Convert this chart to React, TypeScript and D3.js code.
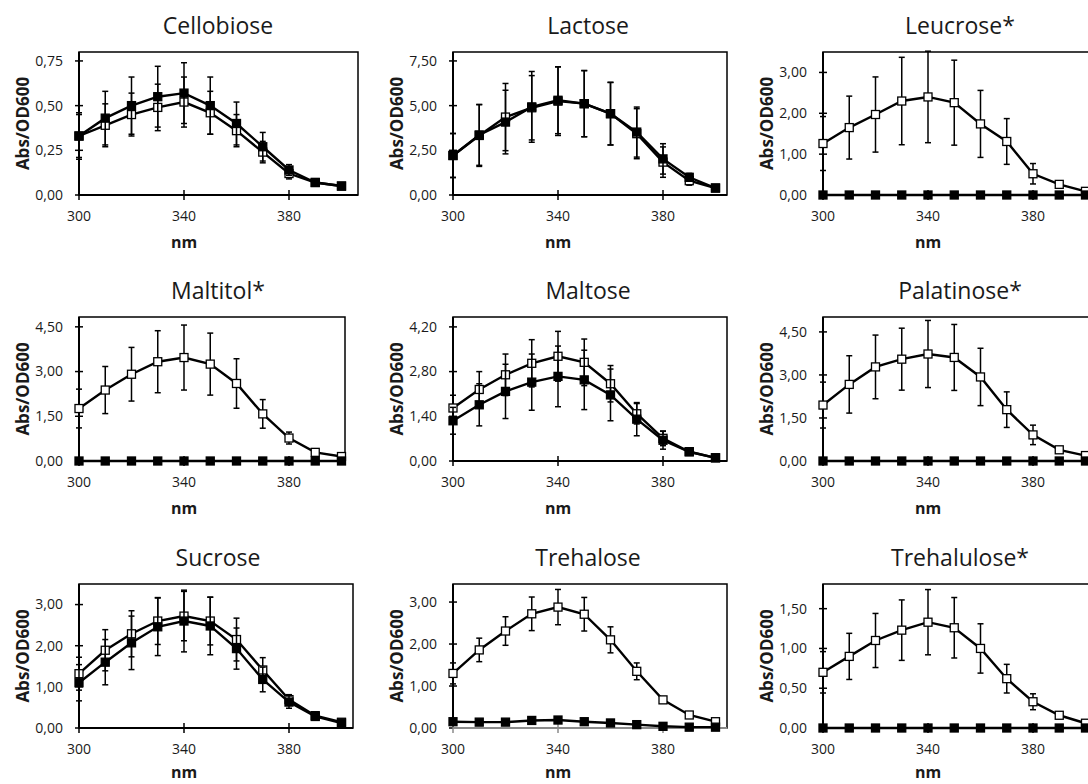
import * as d3 from "d3";

const wavelengths = [300, 310, 320, 330, 340, 350, 360, 370, 380, 390, 400];
const xTickValues = [300, 340, 380];

const titles = ["Cellobiose", "Lactose", "Leucrose*", "Maltitol*", "Maltose", "Palatinose*", "Sucrose", "Trehalose", "Trehalulose*"];

const zeros = [0, 0, 0, 0, 0, 0, 0, 0, 0, 0, 0];

// open squares = series 1, filled squares = series 2
const cellobioseOpen = [0.33, 0.39, 0.45, 0.49, 0.52, 0.46, 0.36, 0.24, 0.12, 0.07, 0.05];
const cellobioseOpenErr = [0.12, 0.12, 0.12, 0.13, 0.14, 0.12, 0.09, 0.06, 0.03, 0.01, 0.01];
const cellobioseFilled = [0.33, 0.43, 0.5, 0.55, 0.57, 0.5, 0.4, 0.27, 0.14, 0.07, 0.05];
const cellobioseFilledErr = [0.13, 0.15, 0.16, 0.17, 0.17, 0.16, 0.12, 0.08, 0.03, 0.01, 0.01];

const lactoseOpen = [2.21, 3.33, 4.36, 4.88, 5.25, 5.11, 4.55, 3.43, 1.84, 0.8, 0.39];
const lactoseOpenErr = [1.23, 1.73, 1.88, 1.8, 1.92, 1.85, 1.75, 1.4, 0.85, 0.25, 0.08];
const lactoseFilled = [2.21, 3.36, 4.08, 4.93, 5.3, 5.11, 4.55, 3.52, 2.02, 0.99, 0.39];
const lactoseFilledErr = [1.23, 1.7, 1.78, 1.98, 1.87, 1.85, 1.75, 1.4, 0.85, 0.22, 0.08];

const leucroseOpen = [1.26, 1.65, 1.97, 2.3, 2.4, 2.26, 1.74, 1.31, 0.52, 0.26, 0.09];
const leucroseOpenErr = [0.66, 0.77, 0.92, 1.07, 1.12, 1.04, 0.82, 0.56, 0.25, 0.06, 0.02];

const maltitolOpen = [1.76, 2.38, 2.91, 3.33, 3.47, 3.25, 2.6, 1.58, 0.77, 0.29, 0.15];
const maltitolOpenErr = [0.65, 0.79, 0.9, 1.04, 1.09, 1.04, 0.83, 0.48, 0.2, 0.04, 0.02];

const maltoseOpen = [1.66, 2.24, 2.7, 3.06, 3.28, 3.09, 2.42, 1.48, 0.71, 0.29, 0.1];
const maltoseOpenErr = [0.4, 0.56, 0.65, 0.74, 0.78, 0.73, 0.57, 0.32, 0.23, 0.04, 0.02];
const maltoseFilled = [1.26, 1.76, 2.18, 2.47, 2.65, 2.54, 2.07, 1.31, 0.65, 0.29, 0.1];
const maltoseFilledErr = [0.42, 0.66, 0.85, 0.88, 0.95, 0.93, 0.81, 0.52, 0.28, 0.04, 0.02];

const palatinoseOpen = [1.95, 2.67, 3.28, 3.55, 3.73, 3.61, 2.93, 1.79, 0.91, 0.39, 0.19];
const palatinoseOpenErr = [0.8, 1.0, 1.11, 1.08, 1.17, 1.15, 1.0, 0.62, 0.34, 0.05, 0.02];

const sucroseOpen = [1.32, 1.89, 2.29, 2.6, 2.72, 2.6, 2.15, 1.41, 0.69, 0.3, 0.14];
const sucroseOpenErr = [0.4, 0.5, 0.56, 0.57, 0.6, 0.58, 0.52, 0.3, 0.12, 0.03, 0.02];
const sucroseFilled = [1.1, 1.6, 2.07, 2.46, 2.6, 2.48, 1.93, 1.18, 0.63, 0.28, 0.12];
const sucroseFilledErr = [0.44, 0.55, 0.65, 0.7, 0.75, 0.7, 0.5, 0.3, 0.15, 0.03, 0.02];

const trehaloseOpen = [1.3, 1.86, 2.31, 2.72, 2.88, 2.71, 2.1, 1.35, 0.67, 0.31, 0.15];
const trehaloseOpenErr = [0.25, 0.28, 0.34, 0.4, 0.42, 0.4, 0.31, 0.2, 0.05, 0.02, 0.01];
const trehaloseFilled = [0.15, 0.14, 0.14, 0.18, 0.19, 0.15, 0.12, 0.08, 0.04, 0.02, 0.02];
const trehaloseFilledErr = [0.02, 0.02, 0.02, 0.02, 0.02, 0.02, 0.02, 0.01, 0.01, 0.01, 0.01];

const trehaluloseOpen = [0.7, 0.9, 1.1, 1.23, 1.33, 1.26, 1.0, 0.62, 0.33, 0.16, 0.06];
const trehaluloseOpenErr = [0.26, 0.29, 0.34, 0.38, 0.41, 0.38, 0.31, 0.18, 0.1, 0.02, 0.01];

const openSeries = [cellobioseOpen, lactoseOpen, leucroseOpen, maltitolOpen, maltoseOpen, palatinoseOpen, sucroseOpen, trehaloseOpen, trehaluloseOpen];
const openErrors = [cellobioseOpenErr, lactoseOpenErr, leucroseOpenErr, maltitolOpenErr, maltoseOpenErr, palatinoseOpenErr, sucroseOpenErr, trehaloseOpenErr, trehaluloseOpenErr];
const filledSeries = [cellobioseFilled, lactoseFilled, zeros, zeros, maltoseFilled, zeros, sucroseFilled, trehaloseFilled, zeros];
const filledErrors = [cellobioseFilledErr, lactoseFilledErr, zeros, zeros, maltoseFilledErr, zeros, sucroseFilledErr, trehaloseFilledErr, zeros];

// y axis top of each plot area and its tick values
const yMaxes = [0.8, 8.0, 3.5, 4.83, 4.51, 5.02, 3.5, 3.43, 1.81];
const yTickValues = [
  [0, 0.25, 0.5, 0.75],
  [0, 2.5, 5, 7.5],
  [0, 1, 2, 3],
  [0, 1.5, 3, 4.5],
  [0, 1.4, 2.8, 4.2],
  [0, 1.5, 3, 4.5],
  [0, 1, 2, 3],
  [0, 1, 2, 3],
  [0, 0.5, 1, 1.5],
];

// layout
const colLeft = [79, 453, 823];
const rowTop = [52, 317, 584];
const rowBottom = [195, 461, 728];
const rightEdges = [
  [358, 727, 1096],
  [345, 727, 1096],
  [353, 727, 1096],
];
const titleCenters = [218, 588, 960];
const nmOffset = [53, 53, 50];
const pxPer10nm = 26.25;
const font = "'Open Sans', 'DejaVu Sans', sans-serif";

const fmt = (v: number) => d3.format(".2f")(v).replace(".", ",");

function Panel({ i }: { i: number }) {
  const row = Math.floor(i / 3);
  const col = i % 3;
  const left = colLeft[col];
  const top = rowTop[row];
  const bottom = rowBottom[row];
  const right = rightEdges[row][col];

  const x = d3.scaleLinear().domain([300, 400]).range([left, left + pxPer10nm * 10]);
  const y = d3.scaleLinear().domain([0, yMaxes[i]]).range([bottom, top]);

  const line = d3.line<number>().x((_, k) => x(wavelengths[k])).y((d) => y(d));

  const axisColor = i === 7 ? "#8a8a8a" : "#000";
  const ms = 8;

  const drawSeries = (vals: number[], errs: number[], filled: boolean) => (
    <g>
      {vals.map((v, k) => (
        <g key={"e" + k} stroke="#000" strokeWidth={1.5}>
          <line x1={x(wavelengths[k])} x2={x(wavelengths[k])} y1={y(v - errs[k])} y2={y(v + errs[k])} />
          <line x1={x(wavelengths[k]) - 3} x2={x(wavelengths[k]) + 3} y1={y(v + errs[k])} y2={y(v + errs[k])} />
          <line x1={x(wavelengths[k]) - 3} x2={x(wavelengths[k]) + 3} y1={y(v - errs[k])} y2={y(v - errs[k])} />
        </g>
      ))}
      <path d={line(vals) ?? ""} fill="none" stroke="#000" strokeWidth={2.4} />
      {vals.map((v, k) => (
        <rect
          key={"m" + k}
          x={x(wavelengths[k]) - ms / 2}
          y={y(v) - ms / 2}
          width={ms}
          height={ms}
          fill={filled ? "#000" : "#fff"}
          stroke="#000"
          strokeWidth={1.3}
        />
      ))}
    </g>
  );

  return (
    <g>
      <text x={titleCenters[col]} y={top - 18} textAnchor="middle" fontFamily={font} fontSize={23} fill="#1a1a1a">
        {titles[i]}
      </text>
      {/* plot area border */}
      <rect x={left} y={top} width={right - left} height={bottom - top} fill="none" stroke="#000" strokeWidth={1.5} />
      {/* y axis */}
      <line x1={left} x2={left} y1={top} y2={bottom} stroke="#000" strokeWidth={2} />
      {yTickValues[i].map((t) => (
        <g key={t}>
          <line x1={left - 4} x2={left + 4} y1={y(t)} y2={y(t)} stroke="#000" strokeWidth={1.5} />
          <text x={left - 16} y={y(t)} dy="0.35em" textAnchor="end" fontFamily={font} fontSize={14} fill="#1a1a1a">
            {fmt(t)}
          </text>
        </g>
      ))}
      {/* x axis */}
      <line x1={left} x2={right} y1={bottom} y2={bottom} stroke={axisColor} strokeWidth={2} />
      {xTickValues.map((t) => (
        <g key={t}>
          <line x1={x(t)} x2={x(t)} y1={bottom - 5} y2={bottom + 5} stroke={axisColor} strokeWidth={1.5} />
          <text x={x(t)} y={bottom + 26} textAnchor="middle" fontFamily={font} fontSize={14} fill="#1a1a1a">
            {t}
          </text>
        </g>
      ))}
      <text x={x(340)} y={bottom + nmOffset[row]} textAnchor="middle" fontFamily={font} fontSize={16} fontWeight="bold" fill="#1a1a1a">
        nm
      </text>
      <text
        transform={`translate(${left - 56},${(top + bottom) / 2}) rotate(-90)`}
        dy="0.35em"
        textAnchor="middle"
        fontFamily={font}
        fontSize={17}
        fontWeight="bold"
        fill="#1a1a1a"
      >
        Abs/OD600
      </text>
      {drawSeries(openSeries[i], openErrors[i], false)}
      {drawSeries(filledSeries[i], filledErrors[i], true)}
    </g>
  );
}

export default function App() {
  return (
    <svg
      width={1088}
      height={784}
      style={{ position: "absolute", left: 0, top: 0, background: "#fff" }}
    >
      <rect width={1088} height={784} fill="#fff" />
      {titles.map((_, i) => (
        <Panel key={i} i={i} />
      ))}
    </svg>
  );
}
